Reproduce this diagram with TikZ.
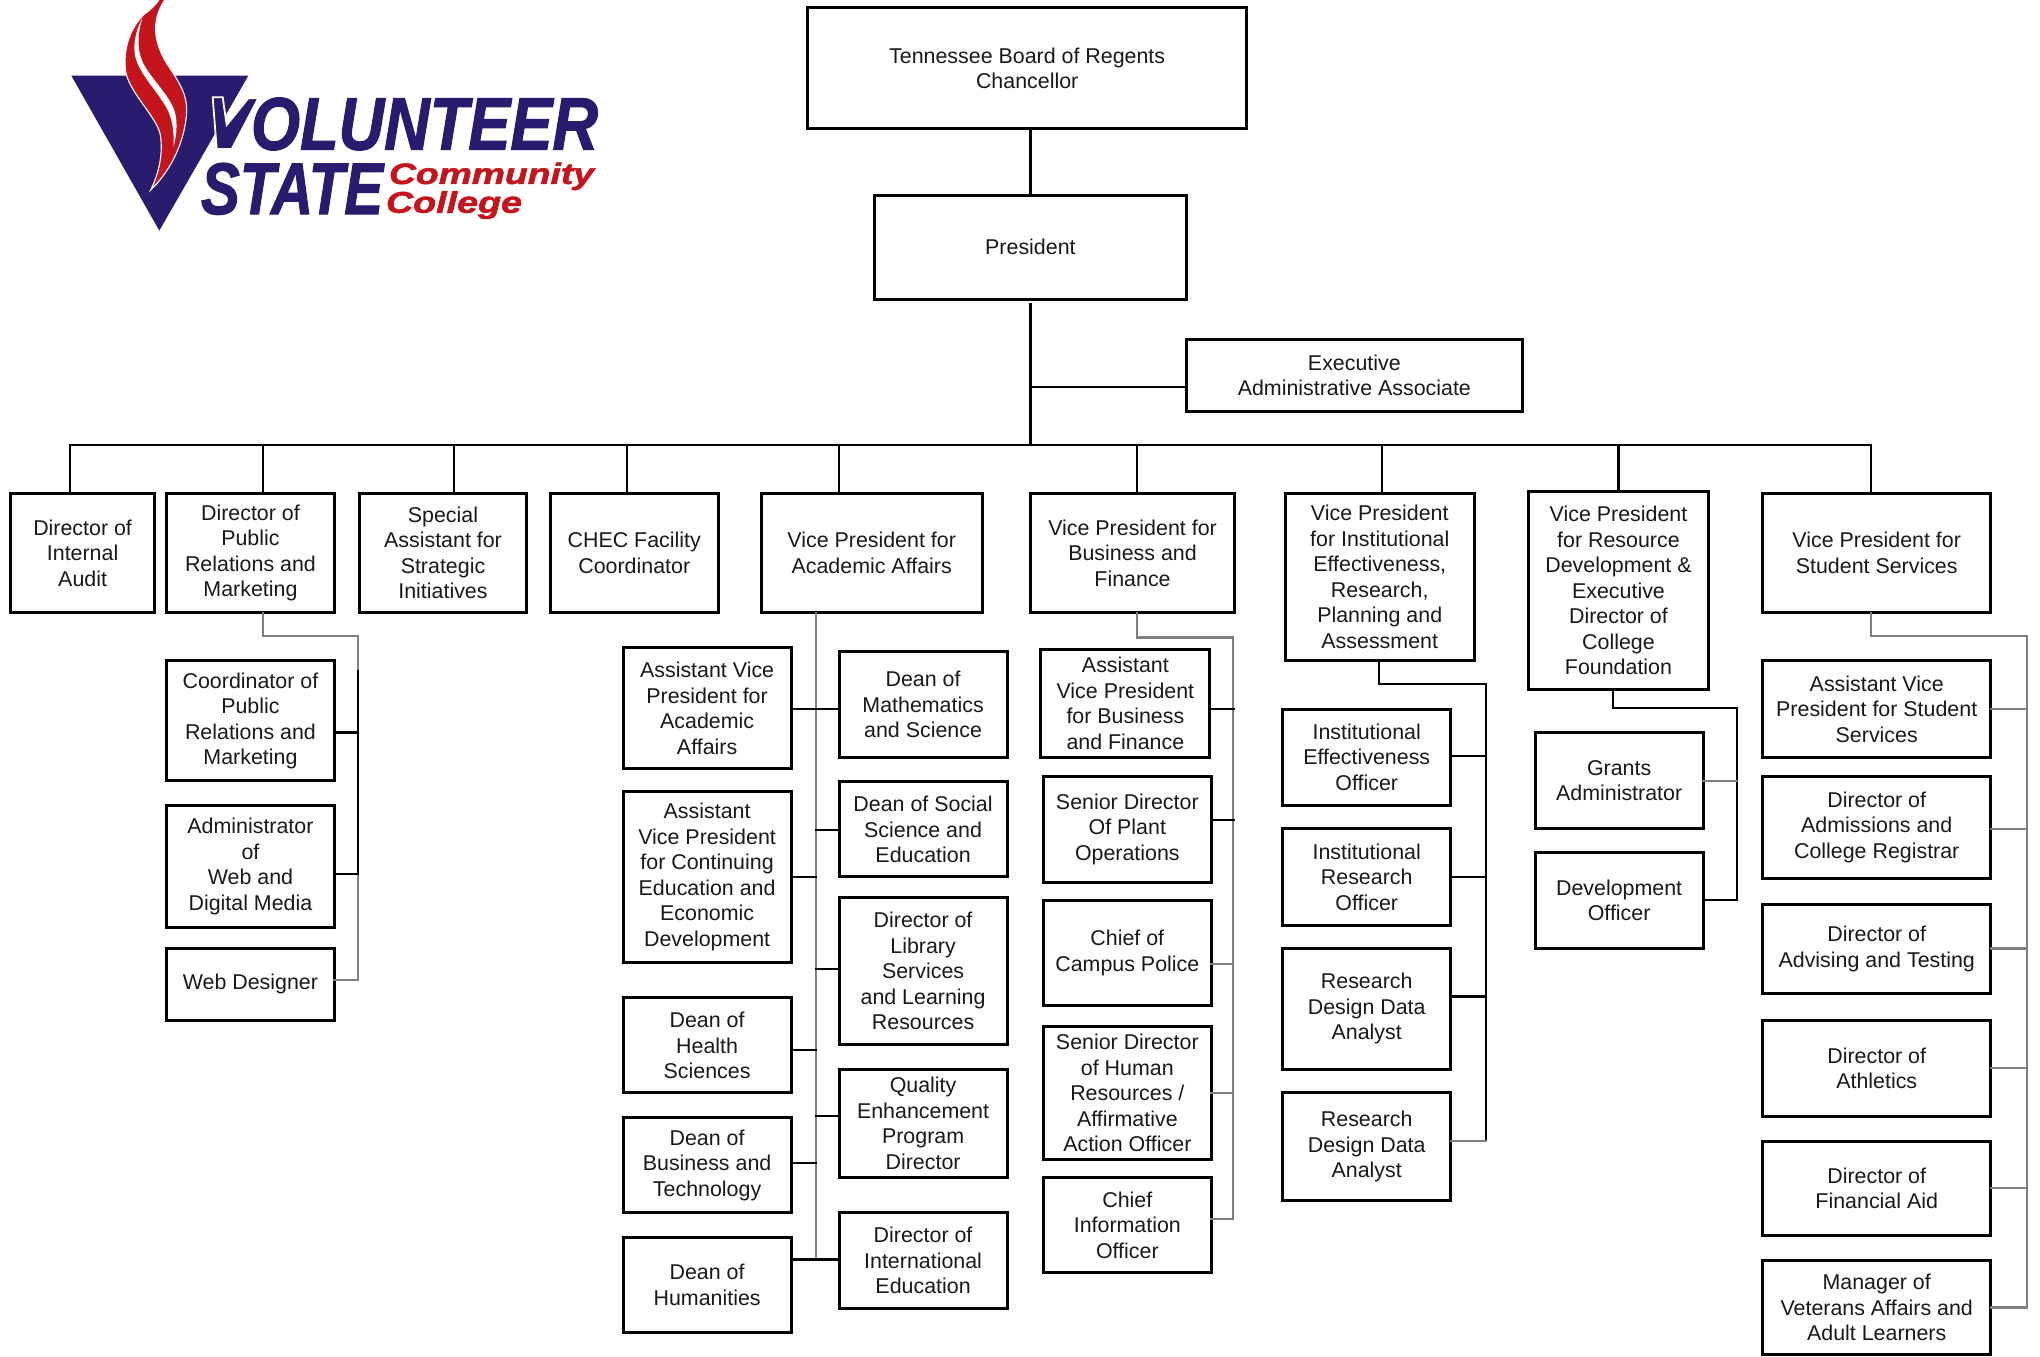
\documentclass[tikz,border=0pt]{standalone}
\usepackage{fontspec}
\usepackage{graphicx}
\setmainfont{Liberation Sans}
\newfontfamily\logofont[BoldItalicFeatures={FakeBold=1.6}]{Liberation Sans}
\definecolor{navy}{HTML}{2A1B6E}
\definecolor{vred}{HTML}{C4141C}
\definecolor{lgray}{HTML}{808080}
\tikzset{
 orgbox/.style={draw=black,line width=3pt,fill=white,inner sep=0pt,outer sep=0pt,align=center,font=\fontsize{21.4}{25.5}\selectfont,text=black!90},
 blk/.style={draw=black,line width=2.3pt,line cap=rect},
 gry/.style={draw=lgray,line width=2.1pt,line cap=rect},
 logotext/.style={inner sep=0pt,outer sep=0pt,anchor=north west}
}
\newcommand{\bx}[6]{\node[orgbox,minimum width={(#3-#2)*1.301pt},minimum height={(#5-#4)*1.301pt}] (#1) at ({(#2+#3)/2},{(#4+#5)/2}) {#6};}
% branch from a box's east side to a spine: style, node, spine coordinate, y
\newcommand{\br}[4]{\draw[#1] (#2.east |- 0,#4) -- (#3 |- 0,#4);}
\newcommand{\brw}[4]{\draw[#1] (#2.west |- 0,#4) -- (#3 |- 0,#4);}
\begin{document}
\begin{tikzpicture}[x=1.301pt,y=-1.301pt]
\useasboundingbox (0,0) rectangle (1568,1042.3);
% ---- logo: shapes measured at 3 units per pixel, from x=60px
\begin{scope}[shift={(60pt,0pt)},x=0.3333pt,y=-0.3333pt]
 \fill[navy] (34,227) -- (565,227) -- (298,692) -- cycle;
 \path[fill=vred,draw=white,line width=1.1pt]
  (300,-6) -- (318,-6) .. controls (280,50) and (272,110) .. (320,190)
  .. controls (360,250) and (382,285) .. (380,335)
  .. controls (376,420) and (335,510) .. (272,570)
  .. controls (300,515) and (310,450) .. (300,400)
  .. controls (285,345) and (210,280) .. (197,215)
  .. controls (188,150) and (210,85) .. (250,45)
  .. controls (270,30) and (288,15) .. (300,-6) -- cycle;
 \fill[white] (248,52) .. controls (232,100) and (230,150) .. (250,190)
  .. controls (275,240) and (335,290) .. (347,345)
  .. controls (352,375) and (350,405) .. (341,440)
  .. controls (342,395) and (338,360) .. (322,328)
  .. controls (290,268) and (232,218) .. (224,160)
  .. controls (220,125) and (230,85) .. (248,52) -- cycle;
\end{scope}
\begin{scope}[x=1pt,y=-1pt]
 \path[fill=navy,draw=white,line width=1.8pt,line join=miter]
  (212.7,97.3) -- (222.7,97.3) -- (226.7,125) -- (248.3,98.3) -- (258.3,98.3) -- (231.7,149) -- (216.7,149) -- cycle;
 \node[logotext,text=navy] (lvol) at (251,97.6) {\resizebox{347pt}{52pt}{\logofont\bfseries\itshape OLUNTEER}};
 \node[logotext,text=navy] (lsta) at (201,163) {\resizebox{182pt}{51pt}{\logofont\bfseries\itshape STATE}};
 \node[logotext,text=vred] (lcom) at (389,162.6) {\resizebox*{205pt}{27.5pt}{\logofont\bfseries\itshape Community}};
 \node[logotext,text=vred] (lcol) at (386,191) {\resizebox*{136pt}{28pt}{\logofont\bfseries\itshape College}};
\end{scope}
% ---- junction points
\coordinate (bus) at (792,342);
\coordinate (jaa) at (627,490);
\coordinate (jbf) at (948,490);
\coordinate (jpr) at (275,489);
\coordinate (jie) at (1142,526);
\coordinate (jrd) at (1335,544);
\coordinate (jss) at (1558,489);
% ---- boxes
\bx{board}{621}{958}{6}{99}{Tennessee Board of Regents\\Chancellor}
\bx{pres}{672}{912}{150}{230}{President}
\bx{exec}{912}{1170}{261}{316}{Executive\\Administrative Associate}
\bx{audit}{8}{119}{379}{471}{Director of\\Internal\\Audit}
\bx{dpr}{128}{257}{379}{471}{Director of\\Public\\Relations and\\Marketing}
\bx{spec}{276}{405}{379}{471}{Special\\Assistant for\\Strategic\\Initiatives}
\bx{chec}{423}{552}{379}{471}{CHEC Facility\\Coordinator}
\bx{vpaa}{585}{755}{379}{471}{Vice President for\\Academic Affairs}
\bx{vpbf}{792}{949}{379}{471}{Vice President for\\Business and\\Finance}
\bx{vpie}{988}{1133}{379}{508}{Vice President\\for Institutional\\Effectiveness,\\Research,\\Planning and\\Assessment}
\bx{vprd}{1175}{1313}{378}{530}{Vice President\\for Resource\\Development \&\\Executive\\Director of\\College\\Foundation}
\bx{vpss}{1355}{1530}{379}{471}{Vice President for\\Student Services}
\bx{coord}{128}{257}{508}{600}{Coordinator of\\Public\\Relations and\\Marketing}
\bx{admin}{128}{257}{619}{713}{Administrator\\of\\Web and\\Digital Media}
\bx{web}{128}{257}{729}{784}{Web Designer}
\bx{avpaa}{479}{608}{498}{591}{Assistant Vice\\President for\\Academic\\Affairs}
\bx{avpce}{479}{608}{608}{740}{Assistant\\Vice President\\for Continuing\\Education and\\Economic\\Development}
\bx{health}{479}{608}{767}{840}{Dean of\\Health\\Sciences}
\bx{busn}{479}{608}{859}{932}{Dean of\\Business and\\Technology}
\bx{hum}{479}{608}{951}{1024}{Dean of\\Humanities}
\bx{math}{645}{774}{501}{582}{Dean of\\Mathematics\\and Science}
\bx{soc}{645}{774}{601}{674}{Dean of Social\\Science and\\Education}
\bx{lib}{645}{774}{690}{803}{Director of\\Library\\Services\\and Learning\\Resources}
\bx{qep}{645}{774}{822}{905}{Quality\\Enhancement\\Program\\Director}
\bx{intl}{645}{774}{932}{1006}{Director of\\International\\Education}
\bx{avpbf}{800}{930}{499}{582}{Assistant\\Vice President\\for Business\\and Finance}
\bx{plant}{802}{931}{597}{678}{Senior Director\\Of Plant\\Operations}
\bx{police}{802}{931}{692}{773}{Chief of\\Campus Police}
\bx{hr}{802}{931}{789}{891}{Senior Director\\of Human\\Resources /\\Affirmative\\Action Officer}
\bx{cio}{802}{931}{905}{978}{Chief\\Information\\Officer}
\bx{ieo}{986}{1115}{545}{619}{Institutional\\Effectiveness\\Officer}
\bx{iro}{986}{1115}{637}{711}{Institutional\\Research\\Officer}
\bx{rda}{986}{1115}{729}{822}{Research\\Design Data\\Analyst}
\bx{rdb}{986}{1115}{840}{923}{Research\\Design Data\\Analyst}
\bx{grants}{1180}{1309}{563}{637}{Grants\\Administrator}
\bx{dev}{1180}{1309}{655}{729}{Development\\Officer}
\bx{avpss}{1355}{1530}{508}{582}{Assistant Vice\\President for Student\\Services}
\bx{adm}{1355}{1530}{597}{675}{Director of\\Admissions and\\College Registrar}
\bx{adv}{1355}{1530}{695}{764}{Director of\\Advising and Testing}
\bx{ath}{1355}{1530}{784}{858}{Director of\\Athletics}
\bx{fa}{1355}{1530}{877}{950}{Director of\\Financial Aid}
\bx{vet}{1355}{1530}{969}{1041.2}{Manager of\\Veterans Affairs and\\Adult Learners}
% ---- top connectors
\draw[blk,line cap=butt] (board.south -| pres.north) -- (pres.north);
\draw[blk,line cap=butt] (pres.south |- 0,232.7) -- (bus);
\draw[blk,line cap=butt] (pres.south |- 0,297.5) -- (exec.west |- 0,297.5);
\coordinate (b1) at (54,342);
\coordinate (b2) at (202,342);
\coordinate (b3) at (349,342);
\coordinate (b4) at (482,342);
\coordinate (b5) at (645,342);
\coordinate (b6) at (874,342);
\coordinate (b7) at (1062,342);
\coordinate (b8) at (1244,342);
\coordinate (b9) at (1438,342);
\draw[blk] (b1) -- (b9);
\draw[blk] (b1) -- (audit.north -| b1);
\draw[blk] (b2) -- (dpr.north -| b2);
\draw[blk] (b3) -- (spec.north -| b3);
\draw[blk] (b4) -- (chec.north -| b4);
\draw[blk] (b5) -- (vpaa.north -| b5);
\draw[blk] (b6) -- (vpbf.north -| b6);
\draw[blk] (b7) -- (vpie.north -| b7);
\draw[blk] (b8) -- (vprd.north -| b8);
\draw[blk] (b9) -- (vpss.north -| b9);
% ---- public relations
\draw[gry] (dpr.south -| b2) -- (b2 |- jpr) -- (jpr) -- (jpr |- 0,753);
\br{gry}{web}{jpr}{753}
\draw[blk] (jpr |- 0,516) -- (jpr |- 0,672);
\br{blk}{coord}{jpr}{563}
\br{blk}{admin}{jpr}{672}
% ---- academic affairs
\draw[gry] (vpaa.south -| jaa) -- (jaa |- 0,968);
\draw[blk] (avpaa.east |- 0,545) -- (math.west |- 0,545);
\brw{blk}{soc}{jaa}{638}
\br{blk}{avpce}{jaa}{674}
\brw{blk}{lib}{jaa}{745}
\br{blk}{health}{jaa}{807}
\brw{blk}{qep}{jaa}{858}
\br{blk}{busn}{jaa}{894}
\draw[blk] (hum.east |- 0,968) -- (intl.west |- 0,968);
% ---- business and finance
\draw[gry] (vpbf.south -| 874,0) -- (874,490) -- (jbf) -- (jbf |- 0,937);
\br{blk}{avpbf}{jbf}{545}
\br{blk}{plant}{jbf}{630}
\br{gry}{police}{jbf}{741}
\br{gry}{hr}{jbf}{840}
\br{gry}{cio}{jbf}{937}
% ---- institutional effectiveness
\draw[blk] (vpie.south -| 1060,0) -- (1060,526) -- (jie) -- (jie |- 0,877);
\br{blk}{ieo}{jie}{581}
\br{blk}{iro}{jie}{674}
\br{blk}{rda}{jie}{766}
\br{gry}{rdb}{jie}{877}
% ---- resource development
\draw[blk] (vprd.south -| 1240,0) -- (1240,544) -- (jrd) -- (jrd |- 0,692);
\br{gry}{grants}{jrd}{600}
\br{blk}{dev}{jrd}{692}
% ---- student services
\draw[gry] (vpss.south -| b9) -- (b9 |- jss) -- (jss) -- (jss |- 0,1005);
\br{gry}{avpss}{jss}{545}
\br{gry}{adm}{jss}{637}
\br{gry}{adv}{jss}{729}
\br{gry}{ath}{jss}{821}
\br{gry}{fa}{jss}{913}
\br{gry}{vet}{jss}{1005}
\end{tikzpicture}
\end{document}
